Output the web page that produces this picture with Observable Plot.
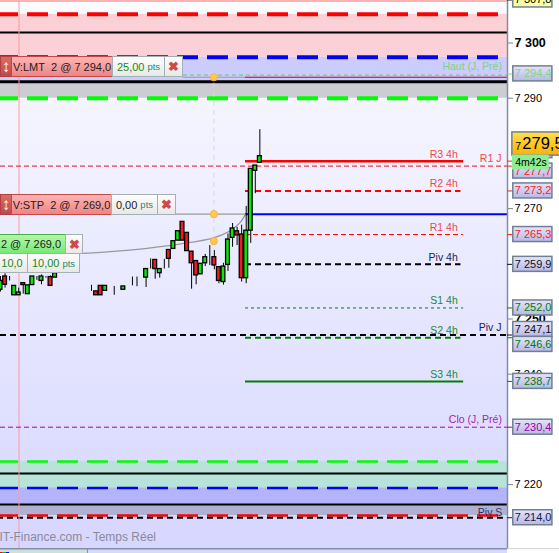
<!DOCTYPE html>
<html>
<head>
<meta charset="utf-8">
<script src="https://cdn.jsdelivr.net/npm/d3@7"></script>
<script src="https://cdn.jsdelivr.net/npm/@observablehq/plot@0.6"></script>
<style>
html,body{margin:0;padding:0;background:#fff}
#wrap{position:relative;width:559px;height:553px;overflow:hidden;font-family:"Liberation Sans",Arial,sans-serif}
#wrap svg{position:absolute;left:0;top:0}
.w{position:absolute;box-sizing:border-box;display:flex;align-items:center;justify-content:center;white-space:nowrap;font-size:11px;color:#222}
.red{background:linear-gradient(#ffb4b4,#f08484);border:1px solid #c04848}
.arrow{background:linear-gradient(#dd6a6a,#c04848);border:1px solid #b04040;color:#fff;font-weight:bold;font-size:17px}
.grn{background:linear-gradient(#b4f8a8,#78e878);border:1px solid #44b044}
.wht{background:linear-gradient(#fdfdfd,#e8e8e8);border:1px solid #a4b0b4;color:#1a8a1a}
.wht small{font-size:9.5px;color:#2a8a6a;margin-left:3px}
.x{color:#d04848;font-size:13px;font-weight:bold}
.blk{color:#222}
</style>
</head>
<body>
<div id="wrap"></div>
<script>
// Candles: index, open, high, low, close
const candleIndex = [0,1,2,3,4,5,6,7,8,9,10,11,12,17,19,20,21,22,23,24,25,26,27,29,30,32,33,34,35,36,37,38,39,40,41,42,43,44,45,46,47,48,49,50,51,52,53,54,55,56,57];
const openPrice  = [7255.3,7257.7,7256.9,7254.3,7254.3,7256.5,7254.5,7256.15,7257.7,7256.9,7257.7,7257.6,7257.5,7258.2,7257.85,7256.1,7255,7256,7255.1,7254.3,7255.9,7255.9,7255.3,7257.6,7255.85,7257.5,7260.9,7260.7,7258.3,7260.8,7262.5,7262.7,7264.2,7267.6,7265.6,7262.2,7260.5,7258.1,7260.1,7261.1,7261.2,7259.4,7256.7,7259.8,7264.7,7265.9,7265.3,7257.4,7266,7276.85,7278.3];
const closePrice = [7256.9,7256.2,7256.9,7256,7254.8,7256.15,7256.1,7257.7,7257.7,7257.7,7257.7,7256,7258.3,7258.2,7257.85,7256.1,7254.3,7254.3,7256,7254.3,7255.9,7255.9,7255.9,7257.6,7255.85,7259.05,7260.9,7259.05,7259.05,7260.8,7260.9,7264.1,7265.9,7264.2,7262.3,7260.1,7257.9,7260,7261.2,7261.1,7259.7,7256.9,7259.5,7264.4,7266.4,7265.15,7257.4,7266,7277.2,7277.8,7279.5];
const highPrice  = [7257.7,7258.2,7257.7,7256,7255.6,7256.5,7256.1,7257.7,7257.7,7258,7257.7,7257.8,7258.9,7258.2,7257.85,7256.1,7255,7256,7256,7254.3,7255.9,7255.9,7255.9,7257.6,7257.6,7259.05,7260.9,7260.7,7259.05,7260.8,7262.5,7264.1,7265.9,7267.6,7265.6,7262.2,7260.5,7260,7261.7,7263.3,7262.4,7259.4,7260.1,7265.4,7267.3,7266.6,7267.0,7270.4,7277.2,7277.8,7284.3];
const lowPrice   = [7254.9,7255.6,7256.9,7254.3,7254.3,7254.5,7254.5,7256.15,7257,7256.2,7257.4,7256,7257.5,7258.2,7257.85,7255,7254.3,7254.3,7255.1,7254.3,7254.3,7255.9,7255.3,7256,7255.85,7255.7,7259.05,7257.2,7257.4,7259.05,7259.2,7262.7,7264.2,7264.2,7262.3,7255.4,7256.2,7258.1,7259.5,7259.7,7258.9,7256.4,7256.15,7258.6,7263,7263.3,7256.7,7256.4,7263.7,7272.7,7278.3];

// Shaded zones
const zoneLow  = [7297.4,7293,7290,7219.4,7216.4,7214.4];
const zoneHigh = [7305.2,7297.4,7293,7224.2,7219.4,7216.4];
const zoneFill = ["#fbd0d6","#ccccff","#cccdd3","#b8e3d8","#b4b4fd","#b0b0d2"];

// Horizontal levels
const levelPrice = [7305.2,7301.9,7297.4,7293,7290,7224.2,7222,7219.4,7216.4,7214.4,7214];
const levelColor = ["#ff0000","#000","#0000ff","#000","#00ff00","#00ff00","#000","#0000ff","#000","#ff0000","#000"];
const levelWidth = [4,2,4,3,4,2.5,2,2.5,2,2.5,2];
const levelDash  = ["21 9","none","21 9","none","21 9","21 9","none","21 9","none","21 9","6 4"];

// Pivot segments
const segPrice = [7294.2,7293.8,7293.8,7278.6,7277.7,7273.2,7269,7269,7265.3,7259.9,7252,7247.1,7246.6,7238.7,7230.4];
const segStart = [40.2,40.2,53.85,53.85,0,53.85,38.5,53.85,53.85,53.85,53.85,0,53.85,53.85,0];
const segEnd   = [111.43,53.85,111.43,101.8,111.43,101.2,53.85,111.43,101.8,101.2,101.8,111.43,101.2,101.8,111.43];
const segColor = ["#66cc66","#999","#b00020","#ff0000","#e81020","#ff0000","#999","#0000ff","#ff0000","#000","#008000","#000","#008000","#008000","#b000b0"];
const segWidth = [1,1,1,2.5,1,2,1.2,2,1,2,1,2,2,2,1];
const segDash  = ["4 3","none","none","none","5 3","6 4","none","none","5 3","6 4","3 3","6 4","6 4","none","5 3"];

// Level captions
const capText  = ["Haut (J, Pré)","R3 4h","R1 J","R2 4h","R1 4h","Piv 4h","S1 4h","S2 4h","Piv J","S3 4h","Clo (J, Pré)","Piv S"];
const capIndex = [110.2,100.5,110.1,100.5,100.5,100.5,100.5,100.5,110.1,100.5,110.2,110.3];
const capPrice = [7294.4,7278.6,7277.7,7273.2,7265.3,7259.9,7252,7246.6,7247.1,7238.7,7230.4,7214];
const capColor = ["#80d080","#f04848","#f04848","#f04848","#f04848","#222255","#228833","#228833","#222255","#228833","#aa22aa","#333366"];
const capOff   = [-7.5,-7,-7.5,-7,-7,-7,-7.5,-7,-7,-7,-7.5,-5.5];

// Axis
const boldTicks = [7300,7250];
const plainTicks = [7290,7270,7240,7220];

// Value boxes on the axis
const boxValue = [7307.8,7294.4,7278.6,7277.7,7273.2,7265.3,7259.9,7252,7247.1,7246.6,7238.7,7230.4,7214];
const boxPos   = [7307.8,7294.4,7280.5,7276.8,7273.2,7265.3,7259.9,7252,7248.1,7245.4,7238.7,7230.4,7214];
const boxText  = ["#000","#7fd87f","#ff2020","#ff2020","#ff2020","#ff2020","#111","#008000","#111","#008000","#008000","#a000a0","#112244"];
const fmt = d => "7 " + d.toFixed(1).slice(1).replace(".", ",");

// Order connector
const curveIndex = [18.2,24.8,32.2,39.6,46.8,50.5,52.7,53.8];
const curvePrice = [7261.9,7262.25,7262.8,7263.6,7264.7,7266,7267.5,7268.9];
const anchorPrice = [7293.8,7269,7264.1];
const anchorIndex = 46.9;

// Footer strip colours
const stripColor = ["#ff0000","#00c000","#0000ff"];
const stripStart = [0,0.6,1.3];
const stripEnd   = [0.6,1.3,2];

const candles = candleIndex.map((i,k)=>({i,o:openPrice[k],h:highPrice[k],l:lowPrice[k],c:closePrice[k]}));
const zones = zoneLow.map((l,k)=>({l,h:zoneHigh[k],f:zoneFill[k]}));
const boxes = boxValue.map((v,k)=>({v,p:boxPos[k],f:boxText[k]}));
const xMax = 111.43, boxL = 112.7, boxR = 121.3, half = 1.36, floorP = 7208.4;
const tickFmt = d => "7 " + String(d).slice(1);

const levelMarks = levelPrice.map((p,k)=>Plot.ruleY([p],{x1:0,x2:xMax,stroke:levelColor[k],strokeWidth:levelWidth[k],strokeDasharray:levelDash[k],strokeDashoffset:3}));
const segMarks = segPrice.map((p,k)=>Plot.ruleY([p],{x1:segStart[k],x2:segEnd[k],stroke:segColor[k],strokeWidth:segWidth[k],strokeDasharray:segDash[k]}));
const capMarks = capText.map((t,k)=>Plot.text([t],{x:capIndex[k],y:capPrice[k],text:d=>d,fill:capColor[k],dy:capOff[k],textAnchor:"end",fontSize:10.5}));

const plot = Plot.plot({
  width:559,height:553,
  marginLeft:0,marginRight:52,marginTop:0,marginBottom:0,
  style:{background:"transparent",fontFamily:"'Liberation Sans',Arial,sans-serif",overflow:"hidden"},
  x:{domain:[0,xMax],axis:null},
  y:{domain:[7207.52,7307.7],axis:null},
  marks:[
    Plot.rect([0],{x1:0,x2:xMax,y1:floorP,y2:7307.7,fill:"url(#bg)"}),
    Plot.rect(zones,{x1:0,x2:xMax,y1:"l",y2:"h",fill:"f"}),
    Plot.rect([0],{x1:0,x2:19.1,y1:7207.52,y2:floorP,fill:"#cde0de"}),
    Plot.rect([0],{x1:19.1,x2:xMax,y1:7207.52,y2:floorP,fill:"#d8d8ff"}),
    Plot.ruleX([19.1],{y1:7207.52,y2:floorP,stroke:"#8090a0"}),
    ...stripColor.map((c,k)=>Plot.ruleY([7207.7],{x1:stripStart[k],x2:stripEnd[k],stroke:c})),
    ...levelMarks,
    Plot.ruleX([4.07],{y1:floorP,y2:7307.7,stroke:"#ff9a9a"}),
    Plot.ruleY([7307.6],{x1:0,x2:xMax,stroke:"#ff9a9a",strokeWidth:1.5}),
    Plot.ruleX([anchorIndex],{y1:7264.1,y2:7293.8,stroke:"#d8d8dc",strokeDasharray:"5 4"}),
    ...segMarks,
    Plot.line(curveIndex.map((x,k)=>[x,curvePrice[k]]),{x:d=>d[0],y:d=>d[1],stroke:"#999",strokeWidth:1.3,curve:"catmull-rom"}),
    Plot.ruleX(candles,{x:"i",y1:"l",y2:"h",stroke:"#000",strokeWidth:1}),
    Plot.rect(candles,{x1:d=>d.i-0.42,x2:d=>d.i+0.42,y1:"o",y2:"c",fill:d=>d.c>d.o?"#0be60b":"#ee1c25",stroke:"#000",strokeWidth:1.3}),
    Plot.dot(anchorPrice,{x:()=>anchorIndex,y:d=>d,r:3.6,fill:"#ffc850",stroke:"#f0b040",strokeWidth:.8}),
    ...capMarks,
    Plot.text(["IT-Finance.com - Temps Réel"],{x:0,y:7210.5,dx:-1,text:d=>d,fill:"#8a8a9a",textAnchor:"start",fontSize:12}),
    Plot.ruleY([floorP],{x1:0,x2:xMax,stroke:"#8090a0",strokeWidth:1.5}),
    Plot.ruleY([floorP],{x1:xMax,x2:122.9,stroke:"#d0d0d0"}),
    Plot.ruleX([xMax],{y1:floorP,y2:7307.7,stroke:"#8090a0",strokeWidth:1.5}),
    Plot.axisY(plainTicks,{anchor:"right",tickSize:5,tickPadding:2,tickFormat:tickFmt,fontSize:11,label:null,stroke:"#789"}),
    Plot.axisY(boldTicks,{anchor:"right",tickSize:5,tickPadding:2,tickFormat:tickFmt,fontSize:12.5,fontWeight:"bold",label:null,stroke:"#789"}),
    Plot.ruleY(boxes,{y:"v",x1:xMax,x2:boxL,stroke:"f"}),
    Plot.rect(boxes,{x1:boxL,x2:boxR,y1:d=>d.p-half,y2:d=>d.p+half,fill:d=>d.v===7307.8?"#ffffa8":"url(#lab)",stroke:"#708090",strokeWidth:1.5}),
    Plot.text(boxes,{x:boxL,y:"p",dx:1.5,text:d=>fmt(d.v),fill:"f",textAnchor:"start",fontSize:11}),
    Plot.rect([7279.5],{x1:boxL-0.2,x2:126,y1:7279.6,y2:7283.8,fill:"url(#gold)",stroke:"#708090",strokeWidth:1.5}),
    Plot.text(["7"],{x:boxL,y:7281.2,dx:2,text:d=>d,fontSize:10.5,fill:"#000",textAnchor:"start"}),
    Plot.text(["279,5"],{x:boxL,y:7281.7,dx:9,text:d=>d,fontSize:16.5,fill:"#000",textAnchor:"start"}),
    Plot.rect([7277.6],{x1:boxL-0.2,x2:120.6,y1:7277,y2:7279.7,fill:"#90ee90"}),
    Plot.text(["4m42s"],{x:boxL,y:7278.3,dx:2,text:d=>d,fontSize:10.5,fill:"#000",textAnchor:"start"})
  ]
});
d3.select(plot).insert("defs",":first-child").html(`
<linearGradient id="bg" x1="0" y1="0" x2="0" y2="1"><stop offset="0" stop-color="#fcfcff"/><stop offset="1" stop-color="#d6d6ff"/></linearGradient>
<linearGradient id="lab" x1="0" y1="0" x2="0" y2="1"><stop offset="0" stop-color="#e4e4fa"/><stop offset="1" stop-color="#b8b8e8"/></linearGradient>
<linearGradient id="gold" x1="0" y1="0" x2="0" y2="1"><stop offset="0" stop-color="#ffe050"/><stop offset="1" stop-color="#ffb000"/></linearGradient>`);
document.getElementById("wrap").append(plot);

// Trading order tickets, laid out as page elements above the chart
const tickets = [
 [0,56,12,21,"arrow","↕"],[11,56,102,21,"red","V:LMT&nbsp; 2 @ 7 294,0"],[112,56,53,21,"wht","25,00<small>pts</small>"],[164,56,19,21,"wht x","✖"],
 [0,194,12,21,"arrow","↕"],[11,194,101,21,"red","V:STP&nbsp; 2 @ 7 269,0"],[111,194,47,21,"wht blk","0,00<small>pts</small>"],[157,194,19,21,"wht x","✖"],
 [-4,234,70,20,"grn","2 @ 7 269,0"],[65,234,18,20,"wht x","✖"],
 [-4,253,32,20,"wht","10,0"],[27,253,53,20,"wht","10,00<small>pts</small>"]
];
for (const [l,t,w,h,c,s] of tickets){
  const e=document.createElement("div");
  e.className="w "+c;
  e.style.cssText=`left:${l}px;top:${t}px;width:${w}px;height:${h}px`;
  e.innerHTML=s;
  document.getElementById("wrap").append(e);
}
</script>
</body>
</html>
